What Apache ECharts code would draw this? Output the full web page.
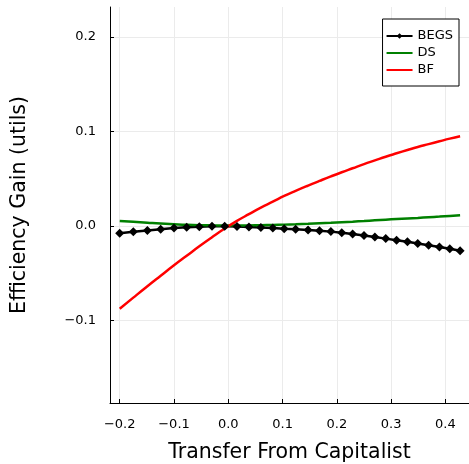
<!DOCTYPE html>
<html>
<head>
<meta charset="utf-8">
<script src="https://cdn.jsdelivr.net/npm/echarts@6/dist/echarts.min.js"></script>
<style>html,body{margin:0;padding:0;background:#fff;}#c{width:469px;height:464px;}</style>
</head>
<body>
<div id="c"></div>
<script>
const xValues = [-0.200, -0.175, -0.149, -0.1245, -0.100, -0.0766, -0.0534, -0.030, -0.0066, 0.016,
  0.038, 0.060, 0.082, 0.103, 0.124, 0.147, 0.168, 0.189, 0.209, 0.229,
  0.250, 0.270, 0.290, 0.310, 0.330, 0.349, 0.369, 0.389, 0.408, 0.427];
const begs = [-0.0076, -0.0060, -0.0047, -0.0034, -0.0021, -0.0013, -0.0007, -0.0003, -0.0001, -0.0006,
  -0.0010, -0.0015, -0.0021, -0.0028, -0.0034, -0.0042, -0.0050, -0.0059, -0.0070, -0.0084,
  -0.0100, -0.0116, -0.0133, -0.0150, -0.0167, -0.0185, -0.0203, -0.0222, -0.0241, -0.0262];
const ds = [0.0054, 0.0045, 0.0035, 0.0026, 0.0019, 0.0013, 0.0009, 0.0007, 0.0006, 0.0006,
  0.0007, 0.0009, 0.0012, 0.0015, 0.0019, 0.0024, 0.0029, 0.0034, 0.0040, 0.0046,
  0.0053, 0.0060, 0.0067, 0.0074, 0.0080, 0.0086, 0.0093, 0.0100, 0.0107, 0.0114];
const bf = [-0.0875, -0.0757, -0.0636, -0.0525, -0.0415, -0.0314, -0.0214, -0.0118, -0.0026, 0.0055,
  0.0126, 0.0195, 0.0257, 0.0318, 0.0372, 0.0428, 0.0477, 0.0525, 0.0569, 0.0611,
  0.0655, 0.0694, 0.0733, 0.0769, 0.0804, 0.0836, 0.0866, 0.0896, 0.0924, 0.0950];
const xTicks = [-0.2, -0.1, 0.0, 0.1, 0.2, 0.3, 0.4];
const yTicks = [-0.1, 0.0, 0.1, 0.2];
const seriesNames = ['BEGS', 'DS', 'BF'];

const pair = ys => xValues.map((x, i) => [x, ys[i]]);
const fmt = v => (v < -1e-9 ? '\u2212' : '') + Math.abs(v).toFixed(1);
const FONT = 'DejaVu Sans';

const chart = echarts.init(document.getElementById('c'), null, {renderer: 'canvas'});
chart.setOption({
  animation: false,
  backgroundColor: '#ffffff',
  textStyle: {fontFamily: FONT},
  grid: {left: 110, right: 0, top: 7, bottom: 61, containLabel: false, outerBoundsMode: 'none'},
  legend: {
    orient: 'vertical', right: 10, top: 19,
    backgroundColor: '#ffffff', borderColor: '#000', borderWidth: 1,
    padding: [10, 6, 9, 3], itemGap: 3, itemWidth: 26, itemHeight: 7,
    textStyle: {fontFamily: FONT, fontSize: 13, color: '#000', lineHeight: 14},
    data: [
      {name: seriesNames[0]},
      {name: seriesNames[1], itemStyle: {opacity: 0}},
      {name: seriesNames[2], itemStyle: {opacity: 0}}
    ]
  },
  xAxis: {
    type: 'value', min: -0.2179, max: 0.4434,
    name: 'Transfer From Capitalist', nameLocation: 'middle', nameGap: 39,
    nameTextStyle: {fontFamily: FONT, fontSize: 20.5, color: '#000'},
    axisLine: {show: true, onZero: false, lineStyle: {color: '#000', width: 1}},
    axisTick: {show: true, inside: true, length: 4, customValues: xTicks, lineStyle: {color: '#000'}},
    axisLabel: {customValues: xTicks, formatter: fmt, fontFamily: FONT, fontSize: 13, color: '#000', margin: 15},
    splitLine: {show: true, lineStyle: {color: '#ebebeb', width: 1}}
  },
  yAxis: {
    type: 'value', min: -0.1871, max: 0.2316,
    name: 'Efficiency Gain (utils)', nameLocation: 'middle', nameGap: 80, nameRotate: 90,
    nameTextStyle: {fontFamily: FONT, fontSize: 20.5, color: '#000'},
    axisLine: {show: true, onZero: false, lineStyle: {color: '#000', width: 1}},
    axisTick: {show: true, inside: true, length: 4, customValues: yTicks, lineStyle: {color: '#000'}},
    axisLabel: {customValues: yTicks, formatter: fmt, fontFamily: FONT, fontSize: 13, color: '#000', margin: 14},
    splitLine: {show: true, lineStyle: {color: '#ebebeb', width: 1}}
  },
  series: [
    {name: seriesNames[0], type: 'line', data: pair(begs), symbol: 'diamond', symbolSize: 9,
     showSymbol: true, itemStyle: {color: '#000'}, lineStyle: {color: '#000', width: 2.5}},
    {name: seriesNames[1], type: 'line', data: pair(ds), symbol: 'circle', showSymbol: false, smooth: true,
     itemStyle: {color: '#008000'}, lineStyle: {color: '#008000', width: 2.5}},
    {name: seriesNames[2], type: 'line', data: pair(bf), symbol: 'circle', showSymbol: false, smooth: true,
     itemStyle: {color: '#ff0000'}, lineStyle: {color: '#ff0000', width: 2.5}}
  ]
});
</script>
</body>
</html>
